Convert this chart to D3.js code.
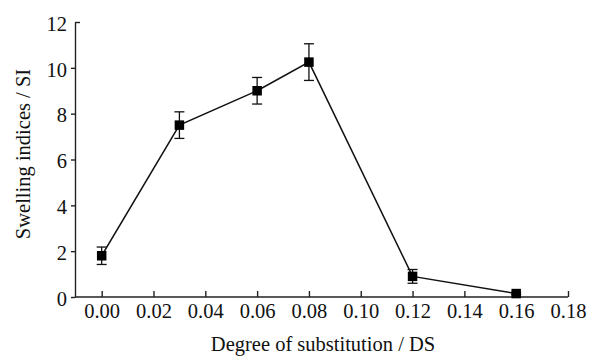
<!DOCTYPE html>
<html>
<head>
<meta charset="utf-8">
<script src="https://cdn.jsdelivr.net/npm/d3@7"></script>
<style>
  body { margin: 0; background: #fff; }
  svg { display: block; }
</style>
</head>
<body>
<div class="chart"></div>
<script>
// degree of substitution vs swelling index
const dsValues = [0.00, 0.03, 0.06, 0.08, 0.12, 0.16]
const siValues = [1.8, 7.5, 9.0, 10.25, 0.9, 0.15]
const siErrors = [0.38, 0.58, 0.58, 0.8, 0.3, 0.05]
const xTicks = [0.00, 0.02, 0.04, 0.06, 0.08, 0.10, 0.12, 0.14, 0.16, 0.18]
const yTicks = [0, 2, 4, 6, 8, 10, 12]

const width = 589
const height = 356
const margin = {top: 22, right: 21, bottom: 59, left: 75}
const graphWidth = width - margin.left - margin.right
const graphHeight = height - margin.top - margin.bottom
const textStyle = 'font-family: "Liberation Serif", "Times New Roman", serif; font-size: 20.5px; fill: #111;'

const data = dsValues.map((d, i) => ({ds: d, si: siValues[i], err: siErrors[i]}))

const svg = d3.select('.chart')
  .append('svg')
  .attr('width', width)
  .attr('height', height)

const graph = svg.append('g')
  .attr('transform', `translate(${margin.left}, ${margin.top})`)

const xScale = d3.scaleLinear()
  .domain([-0.0103, 0.18])
  .range([0, graphWidth])

const yScale = d3.scaleLinear()
  .domain([0, 12])
  .range([graphHeight, 0])

const xAxis = d3.axisBottom(xScale)
  .tickValues(xTicks)
  .tickFormat(d3.format('.2f'))
  .tickSizeInner(-6)
  .tickSizeOuter(0)
  .tickPadding(6.5)

const yAxis = d3.axisLeft(yScale)
  .tickValues(yTicks)
  .tickSizeInner(4)
  .tickSizeOuter(0)
  .tickPadding(4)

const xAxisGroup = graph.append('g')
  .attr('transform', `translate(0, ${graphHeight})`)
  .call(xAxis)

const yAxisGroup = graph.append('g').call(yAxis)

// top tick of the y axis points inward
yAxisGroup.selectAll('.tick')
  .filter(d => d === 12)
  .select('line')
  .attr('x2', 5)

xAxisGroup.select('.domain').attr('d', `M0,0H${xScale(0.18)}`)

for (const g of [xAxisGroup, yAxisGroup]) {
  g.selectAll('.domain, line')
    .attr('stroke', '#222')
    .attr('stroke-width', 1.4)
  g.selectAll('text')
    .attr('style', textStyle)
}
yAxisGroup.selectAll('text').attr('dy', '0.4em')

const line = d3.line()
  .x(d => xScale(d.ds))
  .y(d => yScale(d.si))

graph.append('path')
  .datum(data)
  .attr('d', line)
  .attr('fill', 'none')
  .attr('stroke', '#111')
  .attr('stroke-width', 1.5)

// error bars
const bars = graph.selectAll('.err')
  .data(data)
  .enter()
  .append('g')
  .attr('class', 'err')
  .attr('stroke', '#111')
  .attr('stroke-width', 1.3)

bars.append('line')
  .attr('x1', d => xScale(d.ds))
  .attr('x2', d => xScale(d.ds))
  .attr('y1', d => yScale(d.si + d.err))
  .attr('y2', d => yScale(d.si - d.err))

bars.append('line')
  .attr('x1', d => xScale(d.ds) - 5)
  .attr('x2', d => xScale(d.ds) + 5)
  .attr('y1', d => yScale(d.si + d.err))
  .attr('y2', d => yScale(d.si + d.err))

bars.append('line')
  .attr('x1', d => xScale(d.ds) - 5)
  .attr('x2', d => xScale(d.ds) + 5)
  .attr('y1', d => yScale(d.si - d.err))
  .attr('y2', d => yScale(d.si - d.err))

const sz = 9.5
graph.selectAll('.marker')
  .data(data)
  .enter()
  .append('rect')
  .attr('class', 'marker')
  .attr('x', d => xScale(d.ds) - sz / 2)
  .attr('y', d => yScale(d.si) - sz / 2)
  .attr('width', sz)
  .attr('height', sz)
  .attr('fill', '#000')

svg.append('text')
  .text('Degree of substitution / DS')
  .attr('x', 323)
  .attr('y', 351)
  .attr('text-anchor', 'middle')
  .attr('style', textStyle)

svg.append('text')
  .text('Swelling indices / SI')
  .attr('transform', 'translate(30, 154) rotate(-90)')
  .attr('text-anchor', 'middle')
  .attr('style', textStyle)
</script>
</body>
</html>
